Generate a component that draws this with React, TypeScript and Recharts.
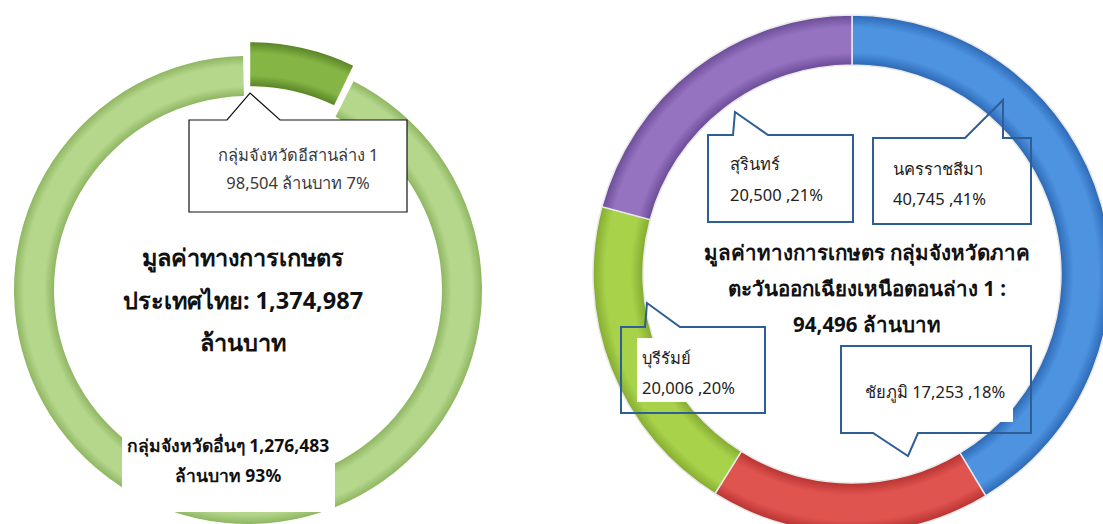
import React from "react";
import { PieChart, Pie, Cell } from "recharts";

const LEFT_NAMES = ["กลุ่มจังหวัดอีสานล่าง 1", "กลุ่มจังหวัดอื่นๆ"];
const LEFT_VALUES = [98504, 1276483];
const LEFT_PCTS = ["7%", "93%"];
const LEFT_TOTAL = "1,374,987";

const RIGHT_NAMES = ["นครราชสีมา", "ชัยภูมิ", "บุรีรัมย์", "สุรินทร์"];
const RIGHT_VALUES = [40745, 17253, 20006, 20500];
const RIGHT_PCTS = ["41%", "18%", "20%", "21%"];
const RIGHT_TOTAL = "94,496";

const fmt = (v: number) => v.toLocaleString("en-US");

const leftData = LEFT_NAMES.map((name, i) => ({ name, value: LEFT_VALUES[i] }));
const rightData = RIGHT_NAMES.map((name, i) => ({ name, value: RIGHT_VALUES[i] }));

const W = 1103;
const H = 524;
const FONT = "Tahoma, 'Noto Sans', 'DejaVu Sans', sans-serif";

// left ring
const LCX = 248;
const LCY = 290;
const LOUT = 234;
const LIN = 194;
// right ring
const RCX = 852;
const RCY = 274;
const ROUT = 259;
const RIN = 209;

const RIGHT_COLORS = [
  ["#2c68b5", "#4d93e0"],
  ["#b83331", "#e05450"],
  ["#84ab30", "#a9d24b"],
  ["#6b4b97", "#9573c0"],
];

const ringGradient = (
  id: string,
  cx: number,
  cy: number,
  r: number,
  inner: number,
  edge: string,
  mid: string
) => {
  const f = inner / r;
  return (
    <radialGradient id={id} gradientUnits="userSpaceOnUse" cx={cx} cy={cy} r={r}>
      <stop offset={f} stopColor={edge} />
      <stop offset={f + (1 - f) * 0.25} stopColor={mid} />
      <stop offset={f + (1 - f) * 0.75} stopColor={mid} />
      <stop offset={1} stopColor={edge} />
    </radialGradient>
  );
};

const Callouts = () => {
  const blue = "#2f5e96";
  const small = 16.5;
  return (
    <svg
      width={W}
      height={H}
      style={{ position: "absolute", left: 0, top: 0, pointerEvents: "none" }}
      fontFamily={FONT}
    >
      {/* left chart callout */}
      <path
        d="M189,120 L227,120 L250,93 L280,120 L407,120 L407,212 L189,212 Z"
        fill="#fff"
        stroke="#111"
        strokeWidth={1.2}
      />
      <text x={298} y={161} textAnchor="middle" fontSize={small} fill="#3a3a3a">
        {LEFT_NAMES[0]}
      </text>
      <text x={298} y={189} textAnchor="middle" fontSize={small} fill="#3a3a3a">
        {`${fmt(LEFT_VALUES[0])} ล้านบาท ${LEFT_PCTS[0]}`}
      </text>

      <text x={243} y={266} textAnchor="middle" fontSize={23.5} fontWeight="bold" fill="#111">
        มูลค่าทางการเกษตร
      </text>
      <text x={243} y={309} textAnchor="middle" fontSize={23.5} fontWeight="bold" fill="#111">
        {`ประเทศไทย: ${LEFT_TOTAL}`}
      </text>
      <text x={243} y={351} textAnchor="middle" fontSize={23.5} fontWeight="bold" fill="#111">
        ล้านบาท
      </text>

      <rect x={122} y={426} width={213} height={86} fill="#fff" />
      <text x={228} y={452} textAnchor="middle" fontSize={17.5} fontWeight="bold" fill="#111">
        {`${LEFT_NAMES[1]} ${fmt(LEFT_VALUES[1])}`}
      </text>
      <text x={228} y={482} textAnchor="middle" fontSize={17.5} fontWeight="bold" fill="#111">
        {`ล้านบาท ${LEFT_PCTS[1]}`}
      </text>

      {/* right chart callouts */}
      <rect x={710} y={138} width={142} height={83} fill="#fff" />
      <path
        d="M708,135 L733,135 L735,112 L768,135 L853,135 L853,222 L708,222 Z"
        fill="none"
        stroke={blue}
        strokeWidth={2}
      />
      <text x={730} y={170} fontSize={small} fill="#222">{RIGHT_NAMES[3]}</text>
      <text x={730} y={201} fontSize={small} fill="#222">
        {`${fmt(RIGHT_VALUES[3])} ,${RIGHT_PCTS[3]}`}
      </text>

      <rect x={875} y={148} width={140} height={74} fill="#fff" />
      <path
        d="M873,138 L965,138 L1003,100 L1003,138 L1031,138 L1031,224 L873,224 Z"
        fill="none"
        stroke={blue}
        strokeWidth={2}
      />
      <text x={893} y={175} fontSize={small} fill="#222">{RIGHT_NAMES[0]}</text>
      <text x={893} y={205} fontSize={small} fill="#222">
        {`${fmt(RIGHT_VALUES[0])} ,${RIGHT_PCTS[0]}`}
      </text>

      <rect x={637} y={338} width={126} height={64} fill="#fff" />
      <path
        d="M621,327 L645,327 L647,303 L680,327 L765,327 L765,413 L621,413 Z"
        fill="none"
        stroke={blue}
        strokeWidth={2}
      />
      <text x={642} y={364} fontSize={small} fill="#222">{RIGHT_NAMES[2]}</text>
      <text x={642} y={394} fontSize={small} fill="#222">
        {`${fmt(RIGHT_VALUES[2])} ,${RIGHT_PCTS[2]}`}
      </text>

      <rect x={843} y={362} width={170} height={60} fill="#fff" />
      <path
        d="M841,346 L1031,346 L1031,433 L918,433 L908,456 L873,433 L841,433 Z"
        fill="none"
        stroke={blue}
        strokeWidth={2}
      />
      <text x={935} y={398} textAnchor="middle" fontSize={small} fill="#222">
        {`${RIGHT_NAMES[1]} ${fmt(RIGHT_VALUES[1])} ,${RIGHT_PCTS[1]}`}
      </text>

      <text x={867} y={260} textAnchor="middle" fontSize={20.5} fontWeight="bold" fill="#111">
        มูลค่าทางการเกษตร กลุ่มจังหวัดภาค
      </text>
      <text x={867} y={296} textAnchor="middle" fontSize={20.5} fontWeight="bold" fill="#111">
        ตะวันออกเฉียงเหนือตอนล่าง 1 :
      </text>
      <text x={867} y={332} textAnchor="middle" fontSize={20.5} fontWeight="bold" fill="#111">
        {`${RIGHT_TOTAL} ล้านบาท`}
      </text>
    </svg>
  );
};

export default function App() {
  // the small slice is pulled out along its bisector
  const bis = ((LEFT_VALUES[0] / (LEFT_VALUES[0] + LEFT_VALUES[1])) * 360) / 2;
  const ex = 10;
  const dx = ex * Math.sin((bis * Math.PI) / 180);
  const dy = -ex * Math.cos((bis * Math.PI) / 180);

  return (
    <div style={{ position: "absolute", left: 0, top: 0, width: W, height: H, background: "#fff" }}>
      <PieChart width={W} height={H} margin={{ top: 0, right: 0, bottom: 0, left: 0 }}>
        <defs>
          {ringGradient("lightG", LCX, LCY, LOUT, LIN, "#8fb662", "#b5d78c")}
          {ringGradient("darkG", LCX + dx, LCY + dy, LOUT + 4, LIN, "#5a8527", "#85b545")}
          {RIGHT_COLORS.map((c, i) => (
            <React.Fragment key={i}>
              {ringGradient(`rG${i}`, RCX, RCY, ROUT, RIN, c[0], c[1])}
            </React.Fragment>
          ))}
        </defs>
        <Pie
          data={leftData}
          dataKey="value"
          cx={LCX}
          cy={LCY}
          innerRadius={LIN}
          outerRadius={LOUT}
          startAngle={90}
          endAngle={-270}
          paddingAngle={1.2}
          stroke="none"
          isAnimationActive={false}
        >
          <Cell fill="transparent" />
          <Cell fill="url(#lightG)" />
        </Pie>
        <Pie
          data={leftData}
          dataKey="value"
          cx={LCX + dx}
          cy={LCY + dy}
          innerRadius={LIN}
          outerRadius={LOUT + 4}
          startAngle={90}
          endAngle={-270}
          paddingAngle={1.2}
          stroke="none"
          isAnimationActive={false}
        >
          <Cell fill="url(#darkG)" />
          <Cell fill="transparent" />
        </Pie>
        <Pie
          data={rightData}
          dataKey="value"
          cx={RCX}
          cy={RCY}
          innerRadius={RIN}
          outerRadius={ROUT}
          startAngle={90}
          endAngle={-270}
          stroke="#e8e8e8"
          strokeWidth={1.5}
          isAnimationActive={false}
        >
          {rightData.map((d, i) => (
            <Cell key={d.name} fill={`url(#rG${i})`} />
          ))}
        </Pie>
      </PieChart>
      <Callouts />
    </div>
  );
}
